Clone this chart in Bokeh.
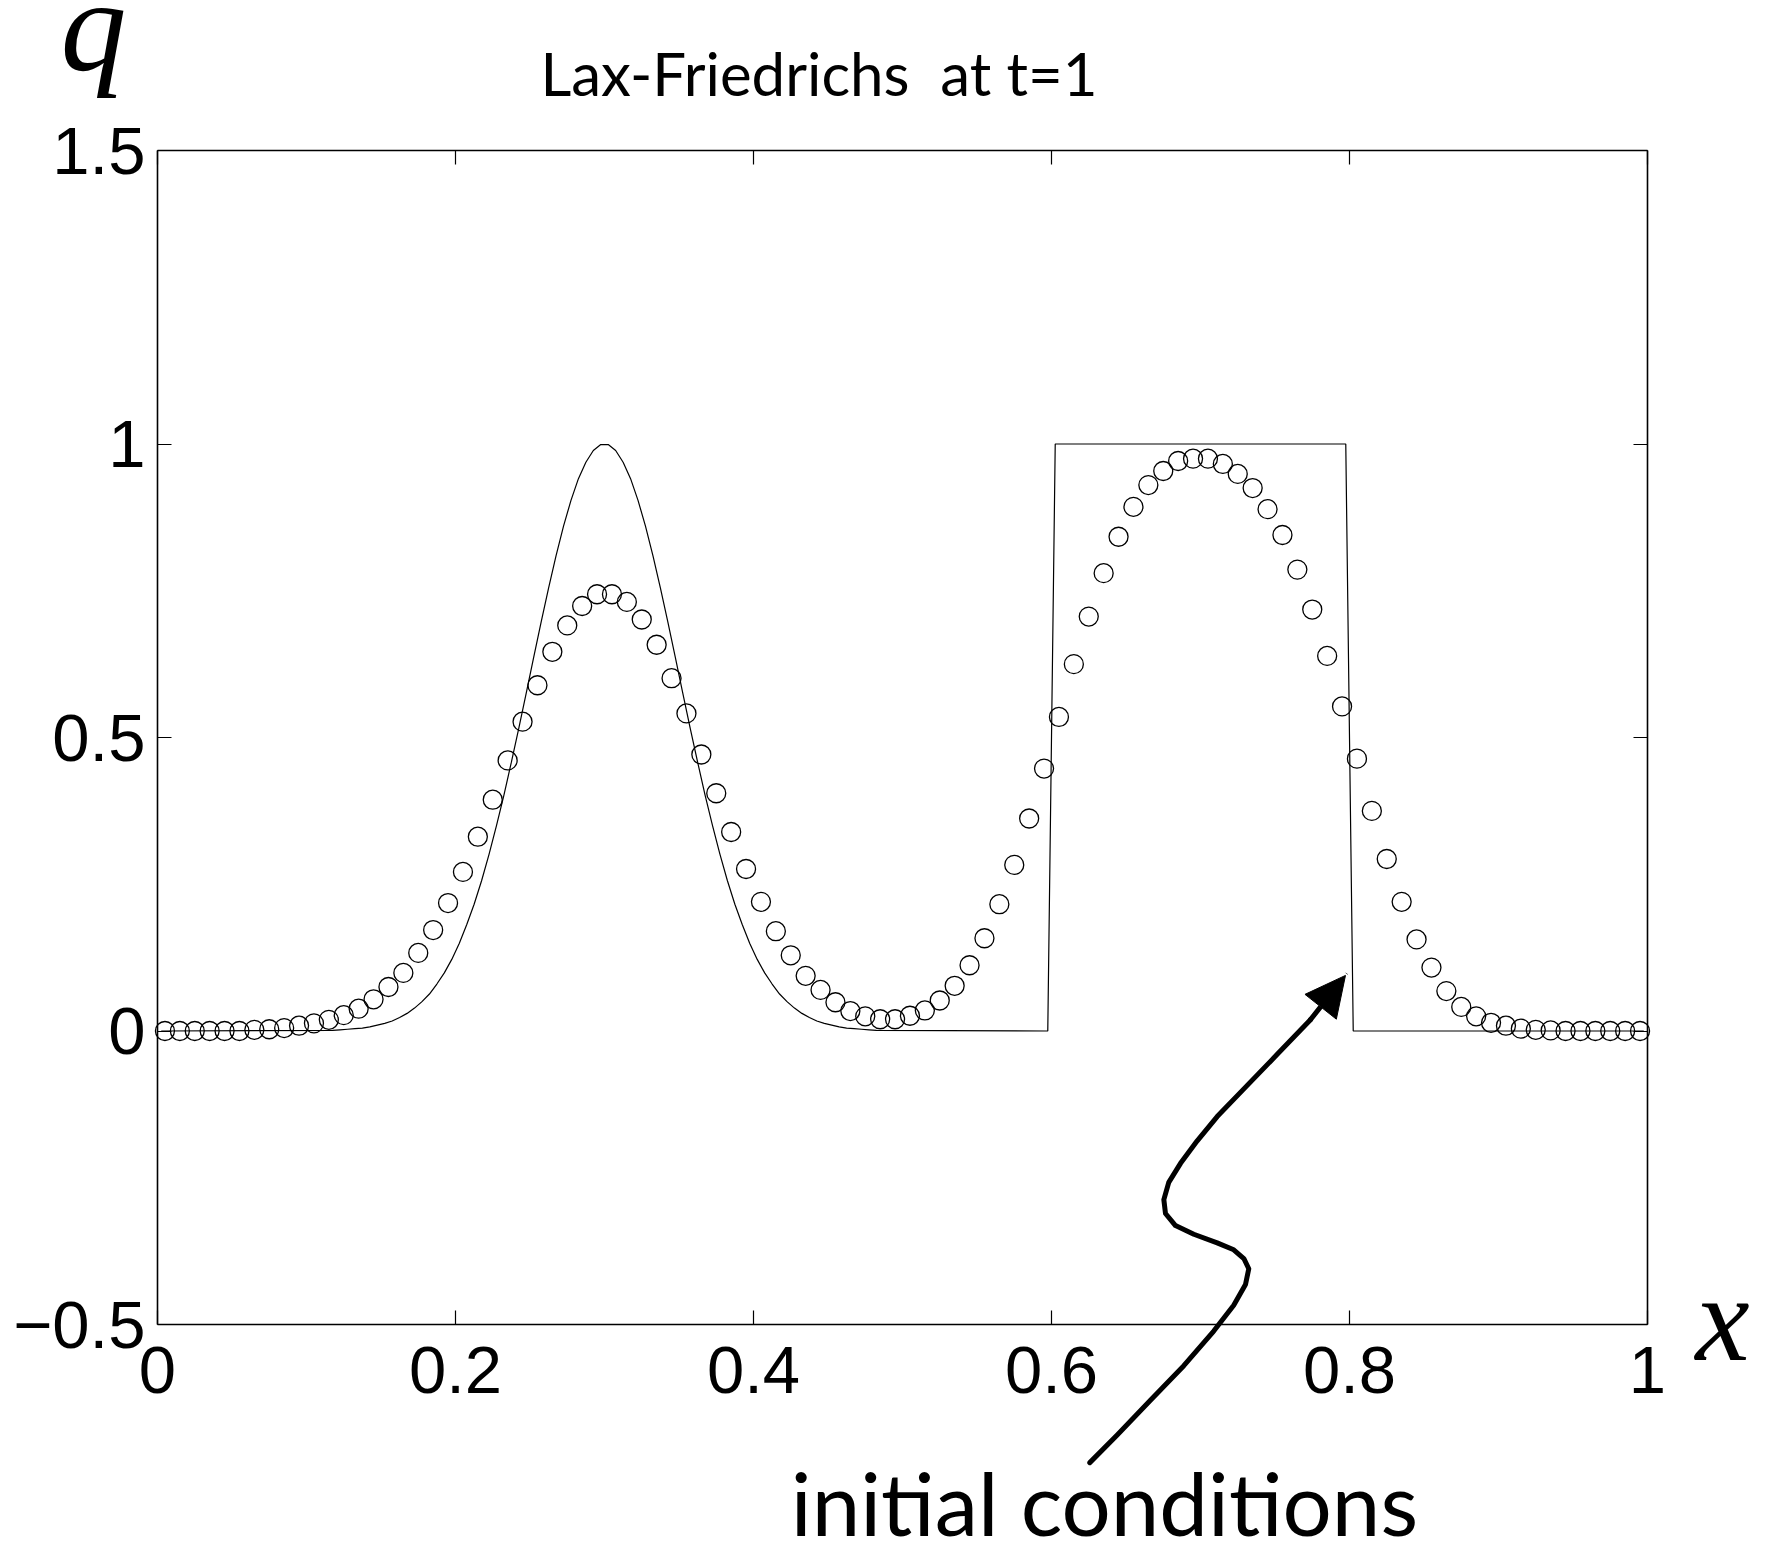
from bokeh.plotting import figure
from bokeh.models import Range1d, FixedTicker, LinearAxis, Label, Arrow, NormalHead
from bokeh.embed import file_html
from bokeh.resources import INLINE

# ---------------- data ----------------
# initial condition (solid line), sampled on the fine grid
x_line = [0.0025,
          0.1175, 0.1225, 0.1275, 0.1325, 0.1375, 0.1425, 0.1475, 0.1525, 0.1575, 0.1625,
          0.1675, 0.1725, 0.1775, 0.1825, 0.1875, 0.1925, 0.1975, 0.2025, 0.2075, 0.2125,
          0.2175, 0.2225, 0.2275, 0.2325, 0.2375, 0.2425, 0.2475, 0.2525, 0.2575, 0.2625,
          0.2675, 0.2725, 0.2775, 0.2825, 0.2875, 0.2925, 0.2975,
          0.3025, 0.3075, 0.3125, 0.3175, 0.3225, 0.3275, 0.3325, 0.3375, 0.3425, 0.3475,
          0.3525, 0.3575, 0.3625, 0.3675, 0.3725, 0.3775, 0.3825, 0.3875, 0.3925, 0.3975,
          0.4025, 0.4075, 0.4125, 0.4175, 0.4225, 0.4275, 0.4325, 0.4375, 0.4425, 0.4475,
          0.4525, 0.4575, 0.4625, 0.4675, 0.4725, 0.4775, 0.4825,
          0.5975, 0.6025, 0.7975, 0.8025, 0.9975]
q_line = [0.0,
          0.001, 0.002, 0.003, 0.004, 0.005, 0.007, 0.010, 0.013, 0.017, 0.023,
          0.030, 0.039, 0.050, 0.063, 0.080, 0.099, 0.122, 0.149, 0.181, 0.216,
          0.256, 0.301, 0.350, 0.402, 0.458, 0.516, 0.576, 0.637, 0.697, 0.755,
          0.810, 0.860, 0.904, 0.941, 0.969, 0.989, 0.999,
          0.999, 0.989, 0.969, 0.941, 0.904, 0.860, 0.810, 0.755, 0.697, 0.637,
          0.576, 0.516, 0.458, 0.402, 0.350, 0.301, 0.256, 0.216, 0.181, 0.149,
          0.122, 0.099, 0.080, 0.063, 0.050, 0.039, 0.030, 0.023, 0.017, 0.013,
          0.010, 0.007, 0.005, 0.004, 0.003, 0.002, 0.001,
          0.0, 1.0, 1.0, 0.0, 0.0]

# Lax-Friedrichs solution at t=1 (circles), cell centres
x_lf = [0.005, 0.015, 0.025, 0.035, 0.045, 0.055, 0.065, 0.075, 0.085, 0.095,
        0.105, 0.115, 0.125, 0.135, 0.145, 0.155, 0.165, 0.175, 0.185, 0.195,
        0.205, 0.215, 0.225, 0.235, 0.245, 0.255, 0.265, 0.275, 0.285, 0.295,
        0.305, 0.315, 0.325, 0.335, 0.345, 0.355, 0.365, 0.375, 0.385, 0.395,
        0.405, 0.415, 0.425, 0.435, 0.445, 0.455, 0.465, 0.475, 0.485, 0.495,
        0.505, 0.515, 0.525, 0.535, 0.545, 0.555, 0.565, 0.575, 0.585, 0.595,
        0.605, 0.615, 0.625, 0.635, 0.645, 0.655, 0.665, 0.675, 0.685, 0.695,
        0.705, 0.715, 0.725, 0.735, 0.745, 0.755, 0.765, 0.775, 0.785, 0.795,
        0.805, 0.815, 0.825, 0.835, 0.845, 0.855, 0.865, 0.875, 0.885, 0.895,
        0.905, 0.915, 0.925, 0.935, 0.945, 0.955, 0.965, 0.975, 0.985, 0.995]
q_lf = [0.0, 0.0, 0.0, 0.0, 0.0, 0.0, 0.002, 0.003, 0.005, 0.009,
        0.013, 0.019, 0.027, 0.038, 0.054, 0.075, 0.099, 0.133, 0.172, 0.218,
        0.271, 0.331, 0.394, 0.461, 0.527, 0.589, 0.646, 0.691, 0.724, 0.744,
        0.744, 0.731, 0.701, 0.658, 0.601, 0.541, 0.471, 0.405, 0.339, 0.276,
        0.220, 0.170, 0.129, 0.094, 0.070, 0.049, 0.034, 0.025, 0.020, 0.020,
        0.026, 0.035, 0.052, 0.077, 0.112, 0.158, 0.216, 0.283, 0.362, 0.447,
        0.535, 0.625, 0.706, 0.780, 0.842, 0.893, 0.930, 0.954, 0.971, 0.975,
        0.975, 0.966, 0.949, 0.925, 0.889, 0.845, 0.786, 0.718, 0.639, 0.553,
        0.464, 0.375, 0.293, 0.220, 0.156, 0.108, 0.068, 0.041, 0.025, 0.014,
        0.009, 0.004, 0.002, 0.001, 0.0, 0.0, 0.0, 0.0, 0.0, 0.0]

# ticks
x_ticks = [0, 0.2, 0.4, 0.6, 0.8, 1]
x_tick_labels = ["0", "0.2", "0.4", "0.6", "0.8", "1"]
y_ticks = [-0.5, 0, 0.5, 1, 1.5]
y_tick_labels = ["\u22120.5", "0", "0.5", "1", "1.5"]

# annotation arrow path (data coordinates)
arrow_x = [0.6257, 0.6441, 0.6664, 0.6888, 0.7089, 0.7223, 0.7302, 0.7324, 0.7291, 0.7223,
           0.7112, 0.6955, 0.6832, 0.6765, 0.6754, 0.6787, 0.6866, 0.6978, 0.7112, 0.7291,
           0.7515, 0.7738, 0.7973]
arrow_y = [-0.7353, -0.6881, -0.6291, -0.5702, -0.5112, -0.4671, -0.4317, -0.4051, -0.3876, -0.3727,
           -0.3610, -0.3462, -0.3315, -0.3109, -0.2872, -0.2578, -0.2254, -0.1871, -0.1458, -0.0986,
           -0.0397, 0.0193, 0.0947]

# ---------------- layout (pixels) ----------------
W, H = 1768, 1561
BOX_L, BOX_R, BOX_T, BOX_B = 157, 1647, 150, 1324
XMIN, XMAX = 0.0, 1.0
YMIN, YMAX = -0.5, 1.5
sx = (BOX_R - BOX_L) / (XMAX - XMIN)
sy = (BOX_B - BOX_T) / (YMAX - YMIN)
x_rng = Range1d(XMIN - BOX_L / sx, XMIN + (W - BOX_L) / sx)
y_rng = Range1d(YMIN - (H - BOX_B) / sy, YMAX + BOX_T / sy)

p = figure(width=W, height=H, x_range=x_rng, y_range=y_rng,
           output_backend="svg", toolbar_location=None, title=None,
           x_axis_type=None, y_axis_type=None, min_border=0,
           min_border_left=0, min_border_right=0, min_border_top=0, min_border_bottom=0)
p.background_fill_color = "white"
p.border_fill_color = "white"
p.outline_line_color = None


def make_axis(ticks, labels, show, loc, bounds):
    return LinearAxis(fixed_location=loc, bounds=bounds,
                      ticker=FixedTicker(ticks=ticks),
                      major_label_overrides={t: (l if show else "") for t, l in zip(ticks, labels)},
                      major_tick_in=14, major_tick_out=0,
                      minor_tick_line_color=None,
                      axis_line_color="black", axis_line_width=1.6,
                      major_tick_line_color="black", major_tick_line_width=1.2,
                      major_label_standoff=12,
                      major_label_text_font="Liberation Sans",
                      major_label_text_font_size="67px",
                      major_label_text_color="black" if show else None)


bx = make_axis(x_ticks, x_tick_labels, True, YMIN, (XMIN, XMAX))
bx.major_label_standoff = 22
p.add_layout(bx, "below")
p.add_layout(make_axis(y_ticks, y_tick_labels, True, XMIN, (YMIN, YMAX)), "left")
p.add_layout(make_axis(x_ticks, x_tick_labels, False, YMAX, (XMIN, XMAX)), "above")
p.add_layout(make_axis(y_ticks, y_tick_labels, False, XMAX, (YMIN, YMAX)), "right")

p.line(x_line, q_line, line_color="black", line_width=1.2)
p.scatter(x_lf, q_lf, marker="circle", size=19, fill_color=None,
          line_color="black", line_width=1.3)

# curved arrow pointing at the initial conditions
p.line(arrow_x[:-1], arrow_y[:-1], line_color="black", line_width=5,
       line_cap="round", line_join="round")
p.add_layout(Arrow(end=NormalHead(size=40, fill_color="black", line_color="black", line_width=1),
                   x_start=arrow_x[-2], y_start=arrow_y[-2], x_end=arrow_x[-1], y_end=arrow_y[-1],
                   line_width=5, line_color="black", line_cap="round"))

# texts
p.add_layout(Label(x=0.4440, y=1.6312, text="Lax-Friedrichs\u00a0 at t=1", text_font="Lato",
                   text_font_size="60px", text_align="center", text_baseline="alphabetic",
                   text_color="black"))
p.add_layout(Label(x=-0.0651, y=1.7121, text="q", text_font="Liberation Serif",
                   text_font_style="italic", text_font_size="132px",
                   text_baseline="alphabetic", text_color="black"))
p.add_layout(Label(x=1.0322, y=-0.4898, text="x", text_font="Liberation Serif",
                   text_font_style="italic", text_font_size="122px",
                   text_baseline="alphabetic", text_color="black"))
p.add_layout(Label(x=0.4250, y=-0.8032, text="initial conditions", text_font="Lato",
                   text_font_size="87px", text_baseline="alphabetic", text_color="black"))

open("out.html", "w").write(file_html(p, INLINE))
